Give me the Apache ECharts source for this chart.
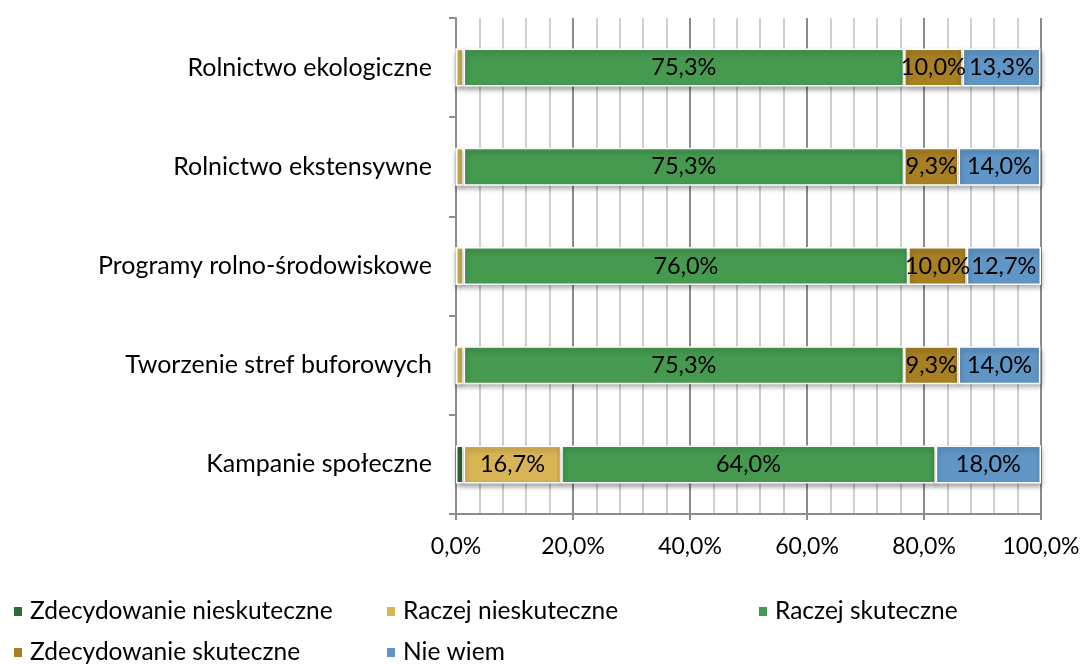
<!DOCTYPE html>
<html>
<head>
<meta charset="utf-8">
<script src="https://cdn.jsdelivr.net/npm/echarts@6/dist/echarts.min.js"></script>
<style>
  html, body { margin: 0; padding: 0; background: #fff; }
  #chart { width: 1083px; height: 664px; }
</style>
</head>
<body>
<div id="chart"></div>
<script>
  // kategorie (od dołu do góry, jak na osi Y)
  var categories = ['Kampanie społeczne', 'Tworzenie stref buforowych', 'Programy rolno-środowiskowe', 'Rolnictwo ekstensywne', 'Rolnictwo ekologiczne'];
  var seriesNames = ['Zdecydowanie nieskuteczne', 'Raczej nieskuteczne', 'Raczej skuteczne', 'Zdecydowanie skuteczne', 'Nie wiem'];
  var zdecNieskuteczne = [1.3, 0, 0, 0, 0];
  var raczejNieskuteczne = [16.7, 1.3, 1.3, 1.3, 1.3];
  var raczejSkuteczne = [64.0, 75.3, 76.0, 75.3, 75.3];
  var zdecSkuteczne = [0, 9.3, 10.0, 9.3, 10.0];
  var nieWiem = [18.0, 14.0, 12.7, 14.0, 13.3];
  var colors = ['#2f6b35', '#d8b455', '#459a50', '#a88022', '#6096c6'];
  var values = [zdecNieskuteczne, raczejNieskuteczne, raczejSkuteczne, zdecSkuteczne, nieWiem];

  var font = 'Lato, "Noto Sans", sans-serif';
  function pct(v) { return v.toFixed(1).replace('.', ',') + '%'; }

  var series = seriesNames.map(function (name, i) {
    return {
      name: name,
      type: 'bar',
      stack: 'total',
      barWidth: 38,
      data: values[i],
      itemStyle: {
        color: colors[i],
        borderColor: '#fff',
        borderWidth: 1.5,
        shadowBlur: 5,
        shadowOffsetX: 1,
        shadowOffsetY: 3,
        shadowColor: 'rgba(0,0,0,0.35)'
      },
      label: {
        show: true,
        position: 'inside',
        color: '#000',
        fontFamily: font,
        fontSize: 23.5,
        formatter: function (p) { return p.value >= 5 ? pct(p.value) : ''; }
      }
    };
  });

  // legenda w siatce 3 kolumn
  var legendPos = [[7, 594], [380, 594], [752, 594], [7, 635], [380, 635]];
  var legends = seriesNames.map(function (name, i) {
    return {
      data: [name],
      left: legendPos[i][0],
      top: legendPos[i][1],
      icon: 'rect',
      itemWidth: 10,
      itemHeight: 11,
      textStyle: { fontFamily: font, fontSize: 24.5, color: '#000', padding: [0, 0, 0, 2] }
    };
  });

  var chart = echarts.init(document.getElementById('chart'));
  chart.setOption({
    animation: false,
    color: colors,
    grid: { left: 456, right: 42, top: 18, bottom: 150, containLabel: false },
    legend: legends,
    xAxis: {
      type: 'value',
      min: 0,
      max: 100,
      interval: 20,
      axisLine: { show: true, lineStyle: { color: '#8c8c8c', width: 2 } },
      axisTick: { show: true, length: 6, lineStyle: { color: '#8c8c8c', width: 2 } },
      axisLabel: { formatter: pct, color: '#000', fontFamily: font, fontSize: 23, margin: 21 },
      splitLine: { show: true, lineStyle: { color: '#8c8c8c', width: 2 } },
      minorTick: { show: false, splitNumber: 5 },
      minorSplitLine: { show: true, lineStyle: { color: '#cfcfcf', width: 2 } }
    },
    yAxis: {
      type: 'category',
      data: categories,
      axisLine: { show: true, lineStyle: { color: '#8c8c8c', width: 2 } },
      axisTick: { show: true, length: 7, lineStyle: { color: '#8c8c8c', width: 2 } },
      axisLabel: { color: '#000', fontFamily: font, fontSize: 25, margin: 24 },
      splitLine: { show: false }
    },
    series: series
  });
</script>
</body>
</html>
